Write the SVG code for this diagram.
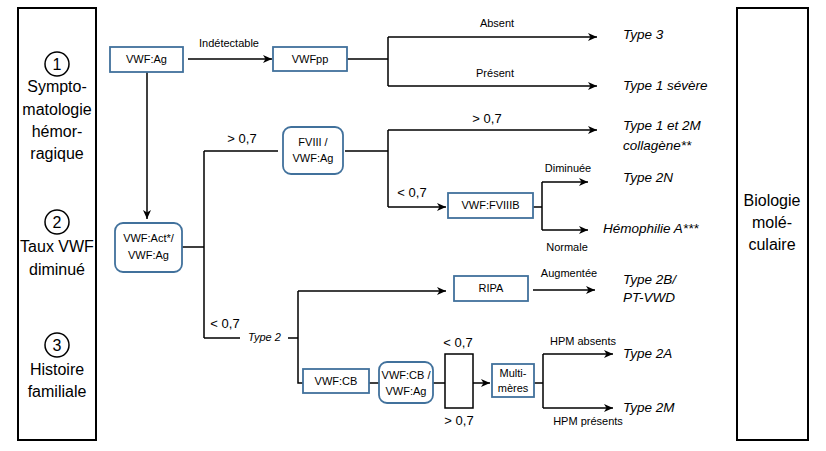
<svg xmlns="http://www.w3.org/2000/svg" width="826" height="451" viewBox="0 0 826 451">
<defs>
<marker id="ah" markerUnits="userSpaceOnUse" markerWidth="10" markerHeight="8" refX="9" refY="4" orient="auto">
<path d="M0,0 L9,4 L0,8 L2.5,4 z" fill="#000"/>
</marker>
<style>
.ln{fill:none;stroke:#000;stroke-width:1.5}
.ar{marker-end:url(#ah)}
.bx{fill:#fff;stroke:#41719C;stroke-width:1.8}
.pn{fill:#fff;stroke:#000;stroke-width:2}
.t{font-family:"Liberation Sans",Arial,sans-serif;font-size:11px;text-anchor:middle;fill:#000}
.th{font-family:"Liberation Sans",Arial,sans-serif;font-size:13px;text-anchor:middle;fill:#000}
.o{font-family:"Liberation Sans",Arial,sans-serif;font-size:13.5px;font-style:italic;fill:#000}
.p{font-family:"Liberation Sans",Arial,sans-serif;font-size:16px;text-anchor:middle;fill:#000}
</style>
</defs>
<rect width="826" height="451" fill="#fff"/>

<g id="panel-left">
<rect class="pn" x="18" y="8" width="78" height="432"/>
<circle cx="57" cy="64" r="12" fill="none" stroke="#000" stroke-width="1.5"/>
<text class="p" x="57" y="70">1</text>
<text class="p" x="57" y="92">Sympto-</text>
<text class="p" x="57" y="115">matologie</text>
<text class="p" x="57" y="137">hémor-</text>
<text class="p" x="57" y="159">ragique</text>
<circle cx="57" cy="222" r="12" fill="none" stroke="#000" stroke-width="1.5"/>
<text class="p" x="57" y="228">2</text>
<text class="p" x="57" y="252">Taux VWF</text>
<text class="p" x="57" y="275">diminué</text>
<circle cx="57" cy="345" r="12" fill="none" stroke="#000" stroke-width="1.5"/>
<text class="p" x="57" y="351">3</text>
<text class="p" x="57" y="375">Histoire</text>
<text class="p" x="57" y="397">familiale</text>
</g>

<g id="panel-right">
<rect class="pn" x="737" y="8" width="71" height="432"/>
<text class="p" x="772" y="206">Biologie</text>
<text class="p" x="772" y="228">molé-</text>
<text class="p" x="772" y="250">culaire</text>
</g>

<g id="connectors">
<path class="ln ar" d="M188,59 H272"/>
<path class="ln" d="M347,59 H388 M388,37 V86"/>
<path class="ln ar" d="M388,37 H597"/>
<path class="ln ar" d="M388,86 H597"/>
<path class="ln ar" d="M147,72 V219"/>
<path class="ln" d="M182,247 H204 M204,151 V338 M204,151 H278"/>
<path class="ln" d="M345,151 H388 M388,130 V207"/>
<path class="ln ar" d="M388,130 H597"/>
<path class="ln ar" d="M388,207 H446"/>
<path class="ln" d="M533,207 H542 M542,182 V230"/>
<path class="ln ar" d="M542,182 H588"/>
<path class="ln ar" d="M542,230 H588"/>
<path class="ln" d="M204,338 H240 M288,338 H298 M298,291 V383 H303"/>
<path class="ln ar" d="M298,291 H446"/>
<path class="ln ar" d="M533,290 H595"/>
<path class="ln" d="M369,383 H379 M433,383 H445"/>
<rect class="ln" x="445" y="354" width="28" height="54"/>
<path class="ln ar" d="M473,383 H490"/>
<path class="ln" d="M534,383 H543 M543,354 V408"/>
<path class="ln ar" d="M543,354 H613"/>
<path class="ln ar" d="M543,408 H613"/>
</g>

<g id="edge-labels">
<text class="t" x="229" y="47">Indétectable</text>
<text class="t" x="497" y="27">Absent</text>
<text class="t" x="495" y="77">Présent</text>
<text class="th" x="487" y="123">&gt; 0,7</text>
<text class="th" x="242" y="143">&gt; 0,7</text>
<text class="th" x="412" y="197">&lt; 0,7</text>
<text class="t" x="568" y="172">Diminuée</text>
<text class="t" x="567" y="251">Normale</text>
<text class="t" x="569" y="277">Augmentée</text>
<text class="th" x="225" y="328">&lt; 0,7</text>
<text class="t" x="248" y="341" style="font-style:italic;text-anchor:start">Type 2</text>
<text class="th" x="458" y="347">&lt; 0,7</text>
<text class="th" x="459" y="425">&gt; 0,7</text>
<text class="t" x="583" y="345">HPM absents</text>
<text class="t" x="588" y="425">HPM présents</text>
</g>

<g id="node-vwfag">
<rect class="bx" x="110" y="47" width="73" height="25"/>
<text class="t" x="146.5" y="63">VWF:Ag</text>
</g>
<g id="node-vwfpp">
<rect class="bx" x="273" y="47" width="74" height="24"/>
<text class="t" x="310" y="63">VWFpp</text>
</g>
<g id="node-act">
<rect class="bx" x="115" y="223" width="67" height="49" rx="8"/>
<text class="t" x="148.5" y="242">VWF:Act*/</text>
<text class="t" x="148.5" y="259">VWF:Ag</text>
</g>
<g id="node-fviii">
<rect class="bx" x="283" y="127" width="60" height="47" rx="8"/>
<text class="t" x="313" y="146">FVIII /</text>
<text class="t" x="313" y="162">VWF:Ag</text>
</g>
<g id="node-fviiib">
<rect class="bx" x="448" y="193" width="85" height="25"/>
<text class="t" x="490.5" y="209">VWF:FVIIIB</text>
</g>
<g id="node-ripa">
<rect class="bx" x="454" y="276" width="74" height="25"/>
<text class="t" x="491" y="292">RIPA</text>
</g>
<g id="node-cb">
<rect class="bx" x="303" y="369" width="66" height="24"/>
<text class="t" x="336" y="385">VWF:CB</text>
</g>
<g id="node-cbag">
<rect class="bx" x="379" y="362" width="54" height="41" rx="8"/>
<text class="t" x="406" y="379">VWF:CB /</text>
<text class="t" x="406" y="395">VWF:Ag</text>
</g>
<g id="node-multi">
<rect class="bx" x="492" y="364" width="42" height="33"/>
<text class="t" x="513" y="377">Multi-</text>
<text class="t" x="513" y="392">mères</text>
</g>

<g id="outcomes">
<text class="o" x="623" y="39">Type 3</text>
<text class="o" x="623" y="90">Type 1 sévère</text>
<text class="o" x="623" y="130">Type 1 et 2M</text>
<text class="o" x="623" y="150">collagène**</text>
<text class="o" x="623" y="182">Type 2N</text>
<text class="o" x="603" y="233">Hémophilie A***</text>
<text class="o" x="623" y="284">Type 2B/</text>
<text class="o" x="623" y="302">PT-VWD</text>
<text class="o" x="623" y="358">Type 2A</text>
<text class="o" x="623" y="412">Type 2M</text>
</g>
</svg>
